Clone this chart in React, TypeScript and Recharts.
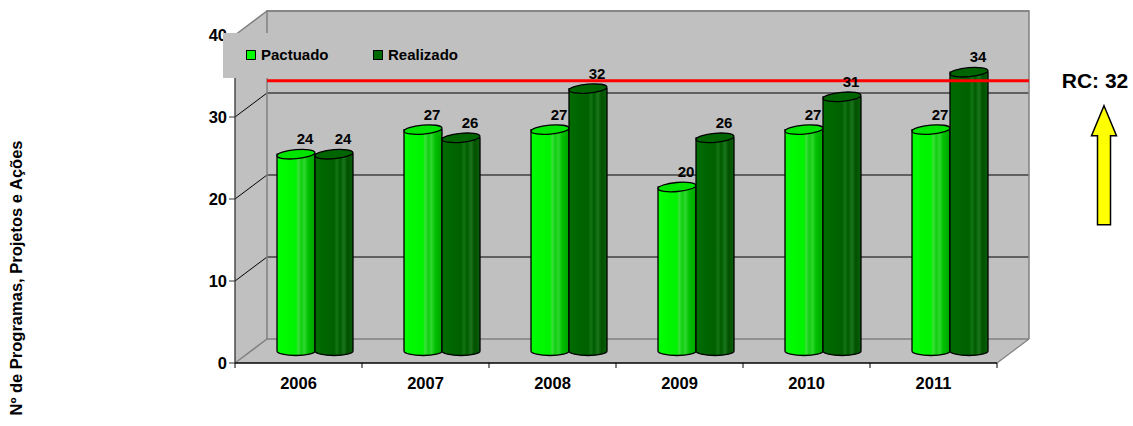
import React from "react";
import {
  ComposedChart,
  Bar,
  XAxis,
  YAxis,
  ReferenceArea,
  ReferenceLine,
  Legend,
  LabelList,
} from "recharts";

// --- dados ---
const years = ["2006", "2007", "2008", "2009", "2010", "2011"];
const pactuado = [24, 27, 27, 20, 27, 27];
const realizado = [24, 26, 32, 26, 31, 34];
const yTicks = [0, 10, 20, 30, 40];
const yMax = 40;
const rcLevel = 31.5; // linha vermelha (plano de fundo)
const rcText = "RC: 32";
const yTitle = "Nº de Programas, Projetos e Ações";

const data = years.map((year, i) => ({
  year,
  pactuado: pactuado[i],
  realizado: realizado[i],
}));

// --- geometria "3D" ---
const W = 1133;
const H = 426;
const DX = 32; // profundidade da parede de fundo
const DY = -24;
const PLOT_TOP = 35;
const FONT = "Arial, 'Liberation Sans', Helvetica, sans-serif";
const WALL = "#c0c0c0";
const EDGE = "#808080";

// paredes (esquerda, chão, fundo) + linhas de grade
const Walls = (p: any) => {
  const { x, y, width: w, height: h } = p;
  const bx = x + DX;
  const by = y + DY;
  return (
    <g>
      <polygon points={`${x},${y} ${bx},${by} ${bx},${by + h} ${x},${y + h}`} fill={WALL} />
      <polygon
        points={`${x},${y + h} ${bx},${by + h} ${bx + w},${by + h} ${x + w},${y + h}`}
        fill={WALL}
      />
      <rect x={bx} y={by} width={w} height={h} fill={WALL} />
      {yTicks.map((t) => {
        const gy = y + h * (1 - t / yMax);
        const edge = t === 0 || t === yMax;
        return (
          <path
            key={t}
            d={`M${x},${gy} L${bx},${gy + DY} H${bx + w}`}
            stroke={edge ? EDGE : "#000"}
            strokeWidth={edge ? 1.4 : 1}
            fill="none"
          />
        );
      })}
      <path
        d={`M${bx},${by + h} V${by} H${bx + w} V${by + h}`}
        stroke={EDGE}
        strokeWidth={1.5}
        fill="none"
      />
      <path d={`M${x + w},${y + h} L${bx + w},${by + h}`} stroke={EDGE} strokeWidth={1.2} />
    </g>
  );
};

// cilindro
function makeCylinder(gradId: string, topFill: string) {
  return (props: any) => {
    const { x, y, width, height } = props;
    if (width == null || height == null || isNaN(y)) return <g />;
    const bx = x + DX / 2;
    const ty = y + DY / 2;
    const by = y + height + DY / 2;
    const rx = width / 2;
    const ry = 4.5;
    const cx = bx + rx;
    return (
      <g>
        <path
          d={`M${bx},${ty} L${bx},${by} A${rx},${ry} 0 0 0 ${bx + width},${by} L${bx + width},${ty} Z`}
          fill={`url(#${gradId})`}
          stroke="#000"
          strokeWidth={1.3}
        />
        <ellipse
          cx={cx}
          cy={ty}
          rx={rx}
          ry={ry}
          fill={topFill}
          stroke="#000"
          strokeWidth={1.3}
          transform={`rotate(-5 ${cx} ${ty})`}
        />
      </g>
    );
  };
}

const ValueLabel = (p: any) => {
  const { x, y, width, value } = p;
  if (x == null || y == null) return null;
  return (
    <text
      x={x + width / 2 + DX / 2 + 9}
      y={y + DY / 2 - 10}
      textAnchor="middle"
      fontFamily={FONT}
      fontWeight="bold"
      fontSize={15}
      fill="#000"
    >
      {value}
    </text>
  );
};

const XTick = (p: any) => {
  const { x, y, payload, index } = p;
  const half = payload?.offset || 63.5;
  const ay = y - 14;
  return (
    <g>
      <line x1={x - half} y1={ay} x2={x - half} y2={ay + 5} stroke="#000" />
      {index === years.length - 1 && (
        <line x1={x + half} y1={ay} x2={x + half} y2={ay + 5} stroke="#000" />
      )}
      <text
        x={x}
        y={y}
        dy="0.71em"
        textAnchor="middle"
        fontFamily={FONT}
        fontWeight="bold"
        fontSize={16.5}
        fill="#000"
      >
        {payload.value}
      </text>
    </g>
  );
};

const YTitle = (p: any) => {
  const vb = p.viewBox || { x: 0, y: PLOT_TOP, width: 235, height: 328 };
  const cx = vb.x + 16;
  const cy = vb.y + vb.height / 2 + 79;
  return (
    <text
      x={cx}
      y={cy}
      transform={`rotate(-90 ${cx} ${cy})`}
      textAnchor="middle"
      dominantBaseline="central"
      fontFamily={FONT}
      fontWeight="bold"
      fontSize={16.5}
      fill="#000"
    >
      {yTitle}
    </text>
  );
};

// rótulo "RC" + seta amarela à direita da linha vermelha
const RcMark = (p: any) => {
  const vb = p.viewBox;
  if (!vb) return null;
  const ly = vb.y + DY;
  const tx = vb.x + vb.width + 98;
  const ax = tx + 9;
  const tip = ly + 25;
  const pts = [
    [ax, tip],
    [ax + 12.5, tip + 30],
    [ax + 6.5, tip + 30],
    [ax + 6.5, tip + 119],
    [ax - 6.5, tip + 119],
    [ax - 6.5, tip + 30],
    [ax - 12.5, tip + 30],
  ]
    .map((q) => q.join(","))
    .join(" ");
  return (
    <g>
      <text
        x={tx}
        y={ly + 7}
        textAnchor="middle"
        fontFamily={FONT}
        fontWeight="bold"
        fontSize={21}
        fill="#000"
      >
        {rcText}
      </text>
      <polygon points={pts} fill="#ffff00" stroke="#000" strokeWidth={1.5} />
    </g>
  );
};

const RedLine = (p: any) => (
  <line
    x1={p.x1 + DX}
    y1={p.y1 + DY}
    x2={p.x2 + DX}
    y2={p.y2 + DY}
    stroke="#ff0000"
    strokeWidth={3}
  />
);

const LegendBox = () => (
  <div
    style={{
      position: "relative",
      width: 250,
      height: 45,
      background: WALL,
      fontFamily: FONT,
      fontWeight: "bold",
      fontSize: 15,
      color: "#000",
    }}
  >
    {[
      { name: "Pactuado", color: "#00ff00", left: 23 },
      { name: "Realizado", color: "#006a00", left: 150 },
    ].map((it) => (
      <div key={it.name} style={{ position: "absolute", left: it.left, top: 13, display: "flex", alignItems: "center" }}>
        <span
          style={{
            display: "inline-block",
            width: 8,
            height: 8,
            background: it.color,
            border: "1px solid #000",
            marginRight: 5,
          }}
        />
        <span style={{ lineHeight: "18px" }}>{it.name}</span>
      </div>
    ))}
  </div>
);

export default function App() {
  return (
    <div style={{ position: "absolute", left: 0, top: 0, width: W, height: H, background: "#fff" }}>
      <svg width={0} height={0} style={{ position: "absolute" }}>
        <defs>
          <linearGradient id="gPact" x1="0" y1="0" x2="1" y2="0">
            <stop offset="0%" stopColor="#00ff00" />
            <stop offset="50%" stopColor="#00f200" />
            <stop offset="56%" stopColor="#3ae03a" />
            <stop offset="64%" stopColor="#10cf10" />
            <stop offset="72%" stopColor="#2ed82e" />
            <stop offset="82%" stopColor="#00c000" />
            <stop offset="100%" stopColor="#00a400" />
          </linearGradient>
          <linearGradient id="gReal" x1="0" y1="0" x2="1" y2="0">
            <stop offset="0%" stopColor="#006c00" />
            <stop offset="50%" stopColor="#006000" />
            <stop offset="58%" stopColor="#127512" />
            <stop offset="66%" stopColor="#005a00" />
            <stop offset="76%" stopColor="#1a761a" />
            <stop offset="86%" stopColor="#005000" />
            <stop offset="100%" stopColor="#0c600c" />
          </linearGradient>
        </defs>
      </svg>
      <ComposedChart
        width={W}
        height={H}
        data={data}
        margin={{ top: PLOT_TOP, right: 136, bottom: 33, left: 0 }}
        barCategoryGap={26}
        barGap={0}
      >
        <ReferenceArea y1={0} y2={yMax} shape={Walls} ifOverflow="visible" isAnimationActive={false} />
        <XAxis
          dataKey="year"
          height={30}
          tick={XTick}
          tickLine={false}
          tickSize={0}
          tickMargin={14}
          axisLine={{ stroke: "#000", strokeWidth: 1.3 }}
          interval={0}
        />
        <YAxis
          width={235}
          domain={[0, yMax]}
          ticks={yTicks}
          tickSize={6}
          tickMargin={2}
          tick={{ fill: "#000", fontSize: 16.5, fontWeight: "bold", fontFamily: FONT }}
          axisLine={{ stroke: "#333", strokeWidth: 1.3 }}
          tickLine={{ stroke: "#333" }}
          label={YTitle}
        />
        <Legend
          layout="horizontal"
          align="center"
          verticalAlign="middle"
          wrapperStyle={{ left: 223, top: 33, width: 250, height: 45 }}
          content={LegendBox}
        />
        <Bar
          dataKey="pactuado"
          name="Pactuado"
          fill="#00ff00"
          shape={makeCylinder("gPact", "#00e400")}
          isAnimationActive={false}
        >
          <LabelList dataKey="pactuado" content={ValueLabel} />
        </Bar>
        <Bar
          dataKey="realizado"
          name="Realizado"
          fill="#008000"
          shape={makeCylinder("gReal", "#006400")}
          isAnimationActive={false}
        >
          <LabelList dataKey="realizado" content={ValueLabel} />
        </Bar>
        <ReferenceLine y={rcLevel} shape={RedLine} label={RcMark} ifOverflow="visible" />
      </ComposedChart>
    </div>
  );
}
